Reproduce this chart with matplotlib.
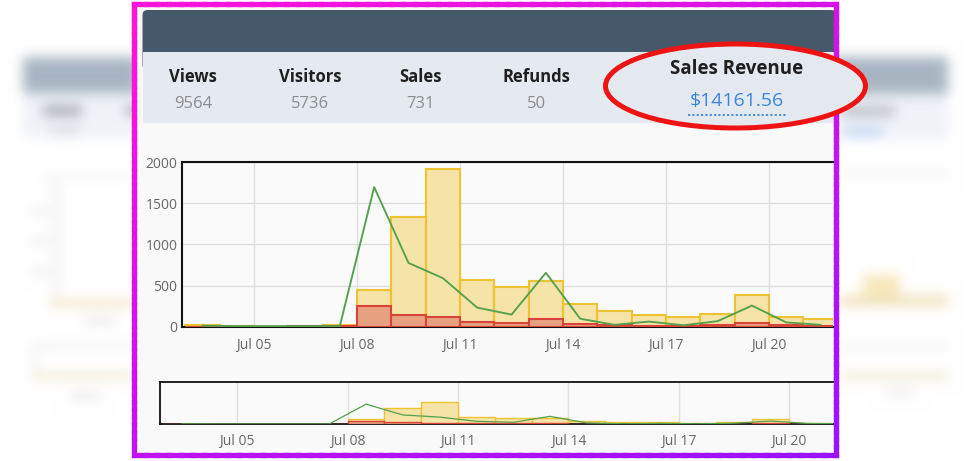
import numpy as np
import matplotlib
matplotlib.use('Agg')
import matplotlib.pyplot as plt
from matplotlib.patches import Rectangle, Ellipse, FancyBboxPatch
from matplotlib.collections import LineCollection

plt.rcParams['font.family'] = ['Open Sans', 'DejaVu Sans']

#### Data ####
days = [3, 4, 5, 6, 7, 8, 9, 10, 11, 12, 13, 14, 15, 16, 17, 18, 19, 20, 21]
revenue = [15, 8, 0, 0, 20, 440, 1330, 1920, 570, 480, 550, 270, 195, 135, 115, 155, 390, 120, 95]
refunds = [0, 0, 0, 5, 5, 250, 140, 120, 55, 45, 90, 30, 15, 12, 10, 20, 45, 20, 10]
views = [10, 5, 5, 5, 5, 1700, 775, 590, 230, 145, 655, 95, 20, 60, 15, 65, 255, 50, 20]

tick_days = [5, 8, 11, 14, 17, 20]
tick_labels = ['Jul 05', 'Jul 08', 'Jul 11', 'Jul 14', 'Jul 17', 'Jul 20']
y_ticks = [0, 500, 1000, 1500, 2000]

stat_names = ['Views', 'Visitors', 'Sales', 'Refunds']
stat_values = ['9564', '5736', '731', '50']
highlight_name = 'Sales Revenue'
highlight_value = '$14161.56'

W, H = 971, 461

#### Blurred backdrop ####
bg = np.ones((H, W, 3))
def paint(x0, x1, y0, y1, c):
    bg[y0:y1, x0:x1] = c

paint(23, 140, 58, 94, (0.66, 0.71, 0.76))
paint(830, 948, 58, 95, (0.66, 0.71, 0.76))
paint(23, 140, 94, 138, (0.94, 0.95, 0.97))
paint(830, 948, 95, 140, (0.94, 0.95, 0.97))
paint(43, 82, 107, 116, (0.62, 0.64, 0.67))
paint(50, 80, 128, 134, (0.82, 0.83, 0.85))
paint(126, 140, 107, 116, (0.62, 0.64, 0.67))
paint(843, 895, 108, 116, (0.68, 0.7, 0.73))
paint(845, 882, 129, 136, (0.7, 0.8, 0.95))
paint(40, 133, 176, 178, (0.9, 0.9, 0.9))
paint(54, 57, 180, 300, (0.88, 0.88, 0.88))
for yy in (210, 240, 270):
    paint(32, 48, yy, yy + 4, (0.88, 0.88, 0.88))
paint(50, 140, 300, 307, (0.95, 0.9, 0.77))
paint(85, 115, 318, 324, (0.9, 0.9, 0.9))
paint(33, 140, 344, 347, (0.9, 0.9, 0.9))
paint(33, 36, 344, 382, (0.9, 0.9, 0.9))
paint(33, 140, 372, 380, (0.96, 0.93, 0.85))
paint(70, 100, 393, 399, (0.9, 0.9, 0.9))
paint(840, 948, 172, 175, (0.92, 0.92, 0.92))
paint(863, 900, 275, 297, (0.97, 0.91, 0.74))
paint(840, 948, 296, 306, (0.94, 0.88, 0.72))
paint(840, 948, 345, 348, (0.92, 0.92, 0.92))
paint(840, 948, 372, 380, (0.95, 0.92, 0.84))
paint(885, 915, 390, 396, (0.92, 0.92, 0.92))

def blur(img, s):
    r = int(3 * s)
    k = np.exp(-0.5 * (np.arange(-r, r + 1) / s) ** 2)
    k /= k.sum()
    img = np.pad(img, ((r, r), (r, r), (0, 0)), mode='edge')
    img = np.apply_along_axis(lambda m: np.convolve(m, k, mode='valid'), 0, img)
    img = np.apply_along_axis(lambda m: np.convolve(m, k, mode='valid'), 1, img)
    return np.clip(img, 0, 1)

bg = blur(bg, 6)

#### Figure ####
fig = plt.figure(figsize=(W / 100, H / 100), dpi=100)
ov = fig.add_axes([0, 0, 1, 1])
ov.set_xlim(0, W)
ov.set_ylim(H, 0)
ov.axis('off')
ov.imshow(bg, extent=(0, W, H, 0), aspect='auto', zorder=0)

# panel
ov.add_patch(Rectangle((136, 6), 700, 447, facecolor='#f9f9f9', edgecolor='none', zorder=1))
ov.add_patch(Rectangle((136, 6), 6, 118, facecolor='#f6f6f6', edgecolor='none', zorder=1))
ov.add_patch(FancyBboxPatch((142.5, 10), 693.5, 60, boxstyle='round,pad=0,rounding_size=5',
                            facecolor='#46596b', edgecolor='none', zorder=2))
ov.add_patch(Rectangle((142.5, 52), 693.5, 71.5, facecolor='#e4eaf0', edgecolor='none', zorder=3))

for i, (n, v) in enumerate(zip(stat_names, stat_values)):
    x = [193, 310, 420, 536][i]
    ov.text(x, 77, n, ha='center', va='center', fontsize=12, fontweight='bold', color='#1f1f1f', zorder=5)
    ov.text(x, 104, v, ha='center', va='center', fontsize=12, color='#8c8c8c', zorder=5)

# highlight ellipse
ov.add_patch(Ellipse((735.5, 86), 260, 84, facecolor='#e3e9ef', edgecolor='#ee1414', lw=3.6, zorder=7))
ov.text(737, 69, highlight_name, ha='center', va='center', fontsize=13.5, fontweight='bold', color='#1f1f1f', zorder=8)
ov.text(737, 101, highlight_value, ha='center', va='center', fontsize=14, color='#3b84e2', zorder=8)
ov.plot([688, 787], [115, 115], color='#3b84e2', lw=1.3, ls=(0, (1.2, 1.2)), zorder=8)

# gradient frame
pts = [(134, 4), (836, 4), (836, 454.5), (134, 454.5), (134, 4)]
segs, cols = [], []
c0 = np.array([1.0, 0.08, 0.85])
c1 = np.array([0.6, 0.07, 1.0])
for (xa, ya), (xb, yb) in zip(pts[:-1], pts[1:]):
    for t in np.linspace(0, 1, 60, endpoint=False):
        xs, ys = xa + (xb - xa) * t, ya + (yb - ya) * t
        xe, ye = xa + (xb - xa) * (t + 1 / 60), ya + (yb - ya) * (t + 1 / 60)
        segs.append([(xs, ys), (xe, ye)])
        f = 0.4 * (xs - 134) / 702 + 0.6 * (ys - 4) / 450.5
        cols.append(c0 + (c1 - c0) * f)
lc = LineCollection(segs, colors=cols, linewidths=3.8, capstyle='projecting', zorder=6)
ov.add_collection(lc)

#### Charts ####
def draw_series(ax, lw):
    ax.bar(days, revenue, width=1, align='edge', color='#f6e3a8', edgecolor='#eec332', lw=lw, zorder=2)
    ax.bar(days, refunds, width=1, align='edge', color='#e6a27f', edgecolor='#d9443a', lw=lw, zorder=3)
    ax.plot(np.array(days) + 0.5, views, color='#54a04c', lw=lw * 0.9, zorder=4)

main = fig.add_axes([181.5 / W, (H - 326.5) / H, (833 - 181.5) / W, 164 / H])
main.set_facecolor('#fafafa')
draw_series(main, 1.5)
main.set_xlim(2.89, 21.86)
main.set_ylim(0, 2000)
main.set_xticks(tick_days)
main.set_xticklabels(tick_labels)
main.set_yticks(y_ticks)
main.tick_params(length=0, labelsize=10, labelcolor='#666666')
main.tick_params(axis='x', pad=8)
main.tick_params(axis='y', pad=3)
main.grid(True, color='#dedede', lw=1, zorder=0)
main.set_axisbelow(True)
for s in ('top', 'left', 'bottom'):
    main.spines[s].set_linewidth(1.5)
    main.spines[s].set_color('#111111')
main.spines['right'].set_visible(False)

nav = fig.add_axes([160 / W, (H - 424) / H, (833 - 160) / W, 42 / H])
nav.set_facecolor('#fafafa')
draw_series(nav, 1.0)
nav.set_xlim(2.9, 21.19)
nav.set_ylim(0, 3600)
nav.set_xticks(tick_days)
nav.set_xticklabels(tick_labels)
nav.set_yticks([])
nav.tick_params(length=0, labelsize=10, labelcolor='#666666', pad=7)
nav.grid(True, axis='x', color='#e0e0e0', lw=1)
nav.set_axisbelow(True)
for s in ('top', 'left', 'bottom'):
    nav.spines[s].set_linewidth(1.3)
    nav.spines[s].set_color('#111111')
nav.spines['right'].set_visible(False)

fig.savefig('out.png', dpi=100)
